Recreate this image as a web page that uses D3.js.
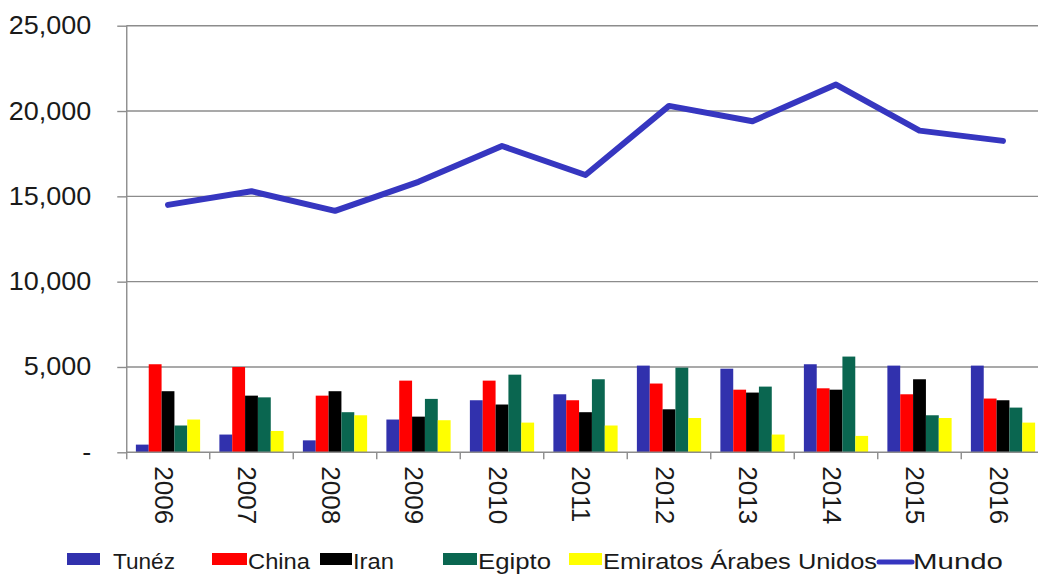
<!DOCTYPE html>
<html>
<head>
<meta charset="utf-8">
<script src="https://cdn.jsdelivr.net/npm/d3@7/dist/d3.min.js"></script>
<style>
  html, body { margin: 0; padding: 0; background: #fff; }
  svg { display: block; }
  text { font-family: "Liberation Sans", Arial, sans-serif; fill: #1a1a1a; }
</style>
</head>
<body>
<svg id="chart" width="1038" height="574"></svg>
<script>
// Annual figures per country (bars) and world total (line)
const years = ["2006", "2007", "2008", "2009", "2010", "2011", "2012", "2013", "2014", "2015", "2016"];
const tunez    = [450, 1040, 700, 1920, 3050, 3400, 5080, 4900, 5160, 5080, 5080];
const china    = [5160, 5000, 3320, 4200, 4200, 3050, 4030, 3670, 3750, 3400, 3150];
const iran     = [3580, 3320, 3580, 2090, 2800, 2350, 2520, 3500, 3670, 4280, 3050];
const egipto   = [1570, 3220, 2350, 3130, 4550, 4280, 4960, 3850, 5610, 2170, 2620];
const emiratos = [1920, 1250, 2170, 1880, 1740, 1570, 2010, 1040, 960, 2010, 1740];
const mundo    = [14500, 15300, 14150, 15850, 17950, 16250, 20300, 19400, 21550, 18850, 18250];
const yTicks   = [0, 5000, 10000, 15000, 20000, 25000];

const barSeries = [
  { name: "Tunéz", values: tunez, color: "#3131ad" },
  { name: "China", values: china, color: "#ff0000" },
  { name: "Iran", values: iran, color: "#000000" },
  { name: "Egipto", values: egipto, color: "#0a6650" },
  { name: "Emiratos Árabes Unidos", values: emiratos, color: "#ffff00" }
];
const lineSeries = { name: "Mundo", values: mundo, color: "#3636c0" };

const svg = d3.select("#chart");
const gridColor = "#8c8c8c";

const x = d3.scaleBand().domain(years).range([126.25, 1044.75]).padding(0);
const x1 = d3.scaleBand().domain(barSeries.map(s => s.name))
  .range([0, x.bandwidth()]).paddingInner(0).paddingOuter(0.75);
const y = d3.scaleLinear().domain([0, 25000]).range([452.3, 25.7]);

// stretch a text element horizontally by factor k
function stretch(sel, k) {
  sel.each(function () {
    const len = this.getComputedTextLength();
    d3.select(this).attr("textLength", len * k).attr("lengthAdjust", "spacingAndGlyphs");
  });
}

// horizontal gridlines
svg.append("g").selectAll("line")
  .data(yTicks.filter(d => d > 0))
  .join("line")
  .attr("x1", x.range()[0]).attr("x2", x.range()[1])
  .attr("y1", d => y(d)).attr("y2", d => y(d))
  .attr("stroke", gridColor).attr("stroke-width", 1.4);

// bars
const groups = svg.append("g").selectAll("g")
  .data(years)
  .join("g")
  .attr("transform", d => `translate(${x(d)},0)`);

groups.selectAll("rect")
  .data((yr, i) => barSeries.map(s => ({ name: s.name, value: s.values[i], color: s.color })))
  .join("rect")
  .attr("x", d => x1(d.name))
  .attr("width", x1.bandwidth())
  .attr("y", d => y(d.value))
  .attr("height", d => y(0) - y(d.value))
  .attr("fill", d => d.color);

// y axis
const yAxis = svg.append("g")
  .attr("transform", `translate(${x.range()[0]},0)`)
  .call(d3.axisLeft(y).tickValues(yTicks)
    .tickFormat(d => d === 0 ? "-" : d3.format(",")(d))
    .tickSize(9).tickPadding(26));
yAxis.select(".domain").attr("stroke", gridColor).attr("stroke-width", 1.4)
  .attr("d", `M0.5,${y(25000)}V${y(0) + 7}`);
yAxis.selectAll(".tick line").attr("stroke", gridColor).attr("stroke-width", 1.4);
yAxis.selectAll(".tick text")
  .style("font-size", "25px").attr("fill", "#1a1a1a");
stretch(yAxis.selectAll(".tick text"), 1.08);

// x axis baseline and category boundary ticks
const xAxis = svg.append("g");
xAxis.append("line")
  .attr("x1", x.range()[0]).attr("x2", x.range()[1])
  .attr("y1", y(0)).attr("y2", y(0))
  .attr("stroke", gridColor).attr("stroke-width", 1.4);
xAxis.selectAll(".bt")
  .data(years.slice(1).concat(["end"]))
  .join("line")
  .attr("class", "bt")
  .attr("x1", d => d === "end" ? x.range()[1] : x(d))
  .attr("x2", d => d === "end" ? x.range()[1] : x(d))
  .attr("y1", y(0)).attr("y2", y(0) + 7)
  .attr("stroke", gridColor).attr("stroke-width", 1.4);

xAxis.selectAll(".yl")
  .data(years)
  .join("text")
  .attr("class", "yl")
  .attr("transform", d => `translate(${x(d) + x.bandwidth() / 2 - 4},${y(0) + 14}) rotate(90)`)
  .attr("dy", "0.35em")
  .attr("text-anchor", "start")
  .style("font-size", "26px")
  .text(d => d);

// world line
const line = d3.line()
  .x((d, i) => x(years[i]) + x.bandwidth() / 2)
  .y(d => y(d));
svg.append("path")
  .datum(lineSeries.values)
  .attr("d", line)
  .attr("fill", "none")
  .attr("stroke", lineSeries.color)
  .attr("stroke-width", 6)
  .attr("stroke-linejoin", "round")
  .attr("stroke-linecap", "round");

// legend
const legendItems = barSeries.map(s => ({ name: s.name, color: s.color, type: "bar" }))
  .concat([{ name: lineSeries.name, color: lineSeries.color, type: "line" }]);
const legendLayout = [
  { sx: 67, tx: 113, tw: 62 },
  { sx: 212, tx: 248, tw: 62 },
  { sx: 320, tx: 353, tw: 41 },
  { sx: 443, tx: 478, tw: 73 },
  { sx: 569, tx: 603, tw: 274 },
  { sx: 878, tx: 913, tw: 90 }
];
const legend = svg.append("g");
legendItems.forEach((item, i) => {
  const L = legendLayout[i];
  if (item.type === "bar") {
    legend.append("rect")
      .attr("x", L.sx).attr("y", 553).attr("width", L.tx - L.sx - (i === 0 ? 13 : 1)).attr("height", 12)
      .attr("fill", item.color);
  } else {
    legend.append("line")
      .attr("x1", L.sx + 1).attr("x2", L.tx - 1).attr("y1", 562).attr("y2", 562)
      .attr("stroke", item.color).attr("stroke-width", 5).attr("stroke-linecap", "round");
  }
  legend.append("text")
    .attr("x", L.tx).attr("y", 569)
    .style("font-size", "22px")
    .attr("textLength", L.tw).attr("lengthAdjust", "spacingAndGlyphs")
    .text(item.name);
});
</script>
</body>
</html>
